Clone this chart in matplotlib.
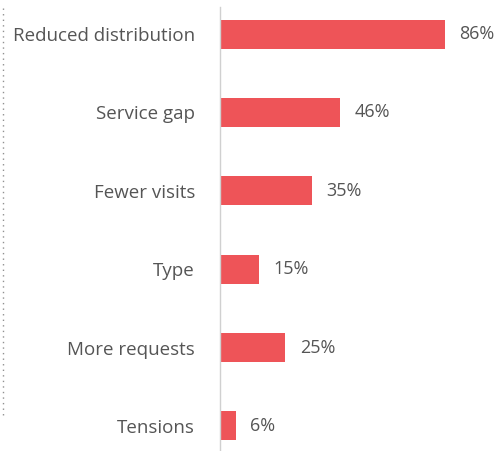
import matplotlib
matplotlib.use('Agg')
import matplotlib.pyplot as plt
from matplotlib.lines import Line2D

categories = ['Reduced distribution', 'Service gap', 'Fewer visits',
              'Type', 'More requests', 'Tensions']
values = [86, 46, 35, 15, 25, 6]

plt.rcParams['font.family'] = ['Open Sans', 'DejaVu Sans']

fig = plt.figure(figsize=(4.99, 4.51), dpi=100)
ax = fig.add_axes([220/499, 0, 279/499, 444/451])

pos = list(range(len(categories)))
ax.barh(pos, values, height=0.37, color='#ee5458')
ax.set_xlim(0, 279/2.615)
ax.set_ylim(5.32, -0.345)

for p, v in zip(pos, values):
    ax.text(v + 5.5, p, '%d%%' % v, va='center', ha='left',
            fontsize=13, color='#555555')

ax.set_yticks(pos)
ax.set_yticklabels(categories, fontsize=13.5, color='#555555')
ax.tick_params(axis='y', length=0, pad=18)
ax.set_xticks([])

for s in ['top', 'right', 'bottom']:
    ax.spines[s].set_visible(False)
ax.spines['left'].set_color('#d0d0d0')
ax.spines['left'].set_linewidth(1)

# dotted rule on the far left
fig.add_artist(Line2D([3/499, 3/499], [1 - 8/451, 1 - 418/451],
                      transform=fig.transFigure, color='#909090',
                      linestyle=(0, (1, 3)), linewidth=1))

fig.savefig('out.png', dpi=100)
